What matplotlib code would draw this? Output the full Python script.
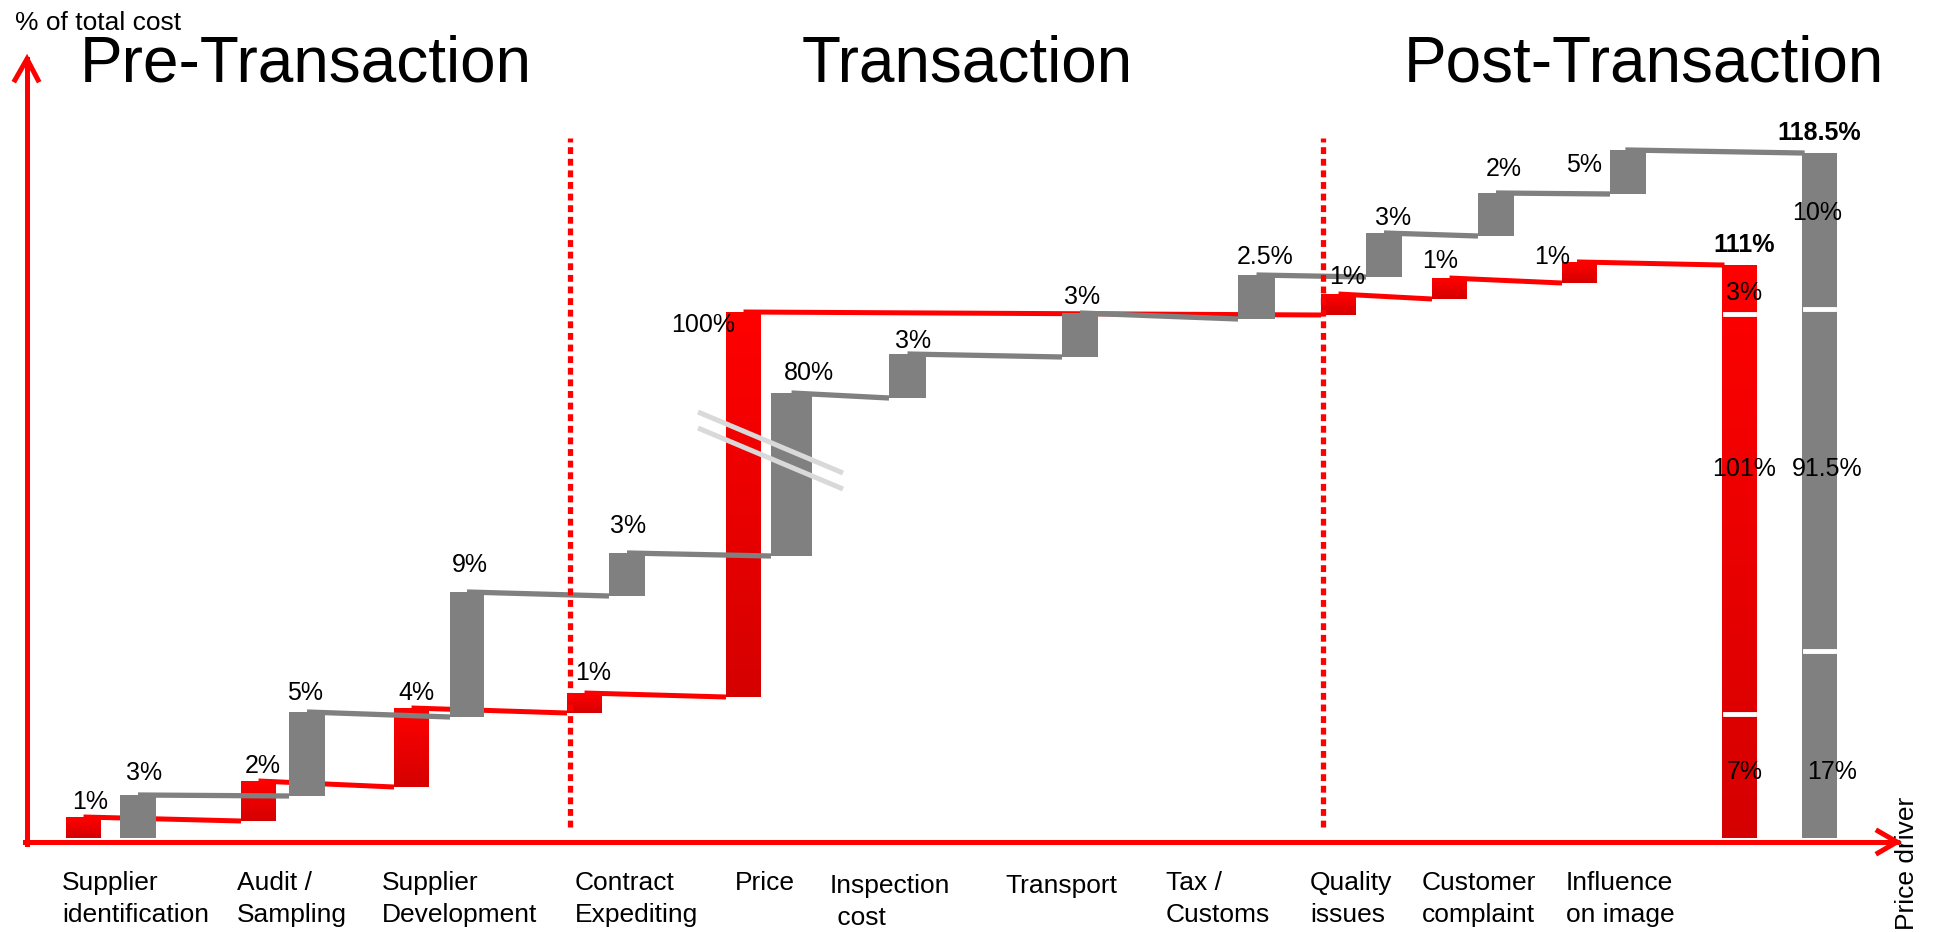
import numpy as np
import matplotlib
matplotlib.use("Agg")
import matplotlib.pyplot as plt
from matplotlib.colors import LinearSegmentedColormap

plt.rcParams['font.family'] = ['Liberation Sans', 'DejaVu Sans']

# categories (two lines each)
categories = [("Supplier", "identification"), ("Audit /", "Sampling"),
              ("Supplier", "Development"), ("Contract", "Expediting"),
              ("Price", ""), ("Inspection", " cost"), ("Transport", ""),
              ("Tax /", "Customs"), ("Quality", "issues"),
              ("Customer", "complaint"), ("Influence", "on image")]
phases = ["Pre-Transaction", "Transaction", "Post-Transaction"]

# red path (drawn height above the axis, schematic scale)
red_labels = ["1%", "2%", "4%", "1%", "100%", "1%", "1%", "1%"]
red_bottom = [4, 21, 55, 129, 145, 527, 543, 559]
red_top = [25, 61, 134, 149, 530, 548, 564, 580]

# grey path
gray_labels = ["3%", "5%", "9%", "3%", "80%", "3%", "3%", "2.5%", "3%", "2%", "5%"]
gray_bottom = [4, 46, 125, 246, 286, 444, 485, 523, 565, 606, 648]
gray_top = [47, 130, 250, 289, 449, 488, 529, 567, 609, 649, 692]

# totals: segment labels bottom -> top, segment borders
red_total = "111%"
red_total_top = 577
red_total_parts = ["7%", "101%", "3%"]
red_total_splits = [128, 528]
gray_total = "118.5%"
gray_total_top = 689
gray_total_parts = ["17%", "91.5%", "10%"]
gray_total_splits = [191, 533]

# ---- layout ----
red_x = [66, 241, 394, 567, 726, 1321, 1432, 1562]
gray_x = [120, 289, 450, 609, 771, 889, 1062, 1238, 1366, 1478, 1610]
gray_w = [36, 36, 34, 36, 41, 37, 36, 37, 36, 36, 36]
bar_w = 35
red_tot_x, gray_tot_x = 1722, 1802
# label offsets (dx from bar centre, dy from bar top)
red_off = [(7, 15), (4, 15), (5, 15), (9, 20), (-40, -13), (9, 17), (-9, 17), (-27, 5)]
gray_off = [(6, 22), (-2, 19), (3, 27), (1, 27), (17, 20), (6, 13), (2, 16), (9, 18),
            (9, 15), (8, 24), (-44, -15)]
cat_x = [62, 237, 382, 575, 735, 830, 1005, 1166, 1310, 1422, 1566]
phase_x = [80, 802, 1404]

RED = "#FF0000"
GRAY = "#808080"
red_cmap = LinearSegmentedColormap.from_list("r", ["#D50000", "#FF0000"])
grad = np.linspace(0, 1, 256).reshape(-1, 1)

fig = plt.figure(figsize=(19.34, 9.32), dpi=100)
ax = fig.add_axes([0, 0, 1, 1])
ax.axis('off')


def red_bar(x0, w, y0, y1, z=3):
    ax.imshow(grad, extent=(x0, x0 + w, y0, y1), cmap=red_cmap, aspect='auto',
              origin='lower', zorder=z, interpolation='bilinear')


# red path
for i in range(len(red_x)):
    red_bar(red_x[i], bar_w, red_bottom[i], red_top[i])
    if i + 1 < len(red_x):
        ax.plot([red_x[i] + bar_w / 2, red_x[i + 1]], [red_top[i], red_bottom[i + 1]],
                color=RED, lw=3.6, solid_capstyle='butt', zorder=2)
    dx, dy = red_off[i]
    ax.text(red_x[i] + bar_w / 2 + dx, red_top[i] + dy, red_labels[i], fontsize=18,
            ha='center', va='center', zorder=10)
ax.plot([red_x[-1] + bar_w / 2, red_tot_x], [red_top[-1], red_total_top],
        color=RED, lw=3.6, zorder=2)

# grey path
for i in range(len(gray_x)):
    ax.bar(gray_x[i], gray_top[i] - gray_bottom[i], width=gray_w[i], bottom=gray_bottom[i],
           align='edge', color=GRAY, lw=0, zorder=5)
    if i + 1 < len(gray_x):
        ax.plot([gray_x[i] + gray_w[i] / 2, gray_x[i + 1]], [gray_top[i], gray_bottom[i + 1]],
                color=GRAY, lw=3.8, solid_capstyle='butt', zorder=4)
    dx, dy = gray_off[i]
    ax.text(gray_x[i] + gray_w[i] / 2 + dx, gray_top[i] + dy, gray_labels[i], fontsize=18,
            ha='center', va='center', zorder=10)
ax.plot([gray_x[-1] + gray_w[-1] / 2, gray_tot_x], [gray_top[-1], gray_total_top],
        color=GRAY, lw=3.8, zorder=4)

# totals
red_bar(red_tot_x, bar_w, 4, red_total_top, z=5)
ax.bar(gray_tot_x, gray_total_top - 4, width=bar_w, bottom=4, align='edge',
       color=GRAY, lw=0, zorder=5)
for x0, splits in [(red_tot_x, red_total_splits), (gray_tot_x, gray_total_splits)]:
    for s in splits:
        ax.plot([x0 + 3, x0 + bar_w - 3], [s, s], color='white', lw=3.5, zorder=6)
red_mid = [70, 373, 549]
gray_mid = [70, 373, 629]
for lab, ym in zip(red_total_parts, red_mid):
    ax.text(red_tot_x + bar_w / 2 + 5, ym, lab, fontsize=18, ha='center', va='center', zorder=10)
for lab, ym, dx in zip(gray_total_parts, gray_mid, [13, 8, -2]):
    ax.text(gray_tot_x + bar_w / 2 + dx, ym, lab, fontsize=18, ha='center', va='center', zorder=10)
ax.text(red_tot_x + bar_w / 2 + 5, red_total_top + 20, red_total, fontsize=18,
        fontweight='bold', ha='center', va='center', zorder=10)
ax.text(gray_tot_x + bar_w / 2, gray_total_top + 20, gray_total, fontsize=18,
        fontweight='bold', ha='center', va='center', zorder=10)

# axis break marks on the price bars
for off in [0, -16]:
    ax.plot([698, 843], [430 + off, 369 + off], color="#D9D9D9", lw=3.6,
            solid_capstyle='butt', zorder=7)

# phase separators
for xs in [570, 1323]:
    ax.plot([xs, xs], [15, 704], color=RED, lw=3.8, dashes=(1.3, 0.9),
            dash_capstyle='butt', zorder=6)

# axes with open arrow heads
ax.plot([27, 27], [-2, 783], color=RED, lw=3.6, zorder=8)
ax.plot([15, 27, 38], [762, 783, 762], color=RED, lw=3.6, solid_joinstyle='miter', zorder=8)
ax.plot([25, 1897], [0, 0], color=RED, lw=3.6, zorder=8)
ax.plot([1878, 1897, 1878], [11, 0, -11], color=RED, lw=3.6, solid_joinstyle='miter', zorder=8)

ax.text(15, 812, "% of total cost", fontsize=19, ha='left', va='baseline')
ax.text(1907, -88, "Price driver", fontsize=19, rotation=90, ha='center', va='bottom')
for x0, ph in zip(phase_x, phases):
    ax.text(x0, 760, ph, fontsize=46, ha='left', va='baseline')

# category labels
for i, (l1, l2) in enumerate(categories):
    extra = 3 if l1 in ("Inspection", "Transport") else 0
    ax.text(cat_x[i], -48 - extra, l1, fontsize=19, ha='left', va='baseline')
    if l2:
        ax.text(cat_x[i], -80 - extra, l2, fontsize=19, ha='left', va='baseline')

ax.set_xlim(0, 1934)
ax.set_ylim(-90, 842)
fig.savefig("out.png", dpi=100)
